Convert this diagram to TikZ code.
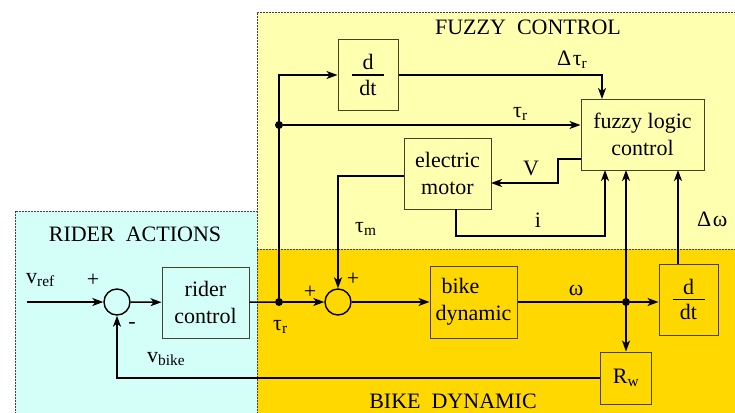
\documentclass[tikz,border=0pt]{standalone}
\usepackage{fontspec}
\setmainfont{Liberation Serif}
\usetikzlibrary{arrows.meta}
\definecolor{cyanbg}{RGB}{212,255,248}
\definecolor{ylbg}{RGB}{255,255,176}
\definecolor{goldbg}{RGB}{255,216,0}
\definecolor{boxline}{RGB}{70,66,40}
\newcommand\ddtfrac{\vbox{\hbox to 32pt{\hss d\hss}\kern4pt\hrule height 1.8pt\kern4pt\hbox to 32pt{\hss dt\hss}}}
\newcommand\sub[1]{\textsubscript{#1}}
\begin{document}
\begin{tikzpicture}[x=1pt,y=-1pt,
  font=\fontsize{22}{27}\selectfont,
  region/.style={draw=black!75,dash pattern=on 2pt off 1pt,line width=0.7pt},
  blk/.style={draw=boxline,line width=1pt,rectangle,inner sep=0pt,align=center},
  sumc/.style={draw=black,line width=1.4pt,circle,minimum size=26pt,inner sep=0pt},
  arr/.style={line width=1.5pt,-{Stealth[length=11pt,width=8pt,inset=3pt]}},
  ln/.style={line width=1.5pt},
  dotc/.style={circle,fill=black,inner sep=0pt,minimum size=8pt},
  lbl/.style={inner sep=0pt,anchor=base west}]
\useasboundingbox (0,0) rectangle (735,412);
% regions
\fill[ylbg] (257,12) rectangle (740,249);
\fill[goldbg] (257,249) rectangle (740,420);
\fill[cyanbg] (15,211) rectangle (257,420);
\draw[region] (257,420) -- (257,12) -- (740,12);
\draw[region] (257,249) -- (740,249);
\draw[region] (15,420) -- (15,211) -- (257,211);
\node[inner sep=0pt,anchor=base] (tfz) at (528,35) {FUZZY\ \ CONTROL};
\node[inner sep=0pt,anchor=base] (tra) at (135,241) {RIDER\ \ ACTIONS};
\node[inner sep=0pt,anchor=base] (tbd) at (453,408.5) {BIKE\ \ DYNAMIC};
% blocks
\node[blk,minimum width=60pt,minimum height=71pt] (ddt1) at (368,75) {\ddtfrac};
\node[blk,minimum width=123pt,minimum height=71pt] (flc) at (642.5,134.5) {fuzzy logic\\control};
\node[blk,minimum width=87pt,minimum height=71pt] (motor) at (447.5,173.5) {electric\\motor};
\node[blk,minimum width=87pt,minimum height=71pt] (rider) at (205.5,302.5) {rider\\control};
\node[blk,minimum width=87pt,minimum height=72pt,align=left] (bike) at (473.5,302) {\hspace*{6pt}bike\\dynamic};
\node[blk,minimum width=59pt,minimum height=71pt] (ddt2) at (688.5,299.5) {\ddtfrac};
\node[blk,minimum width=51pt,minimum height=52pt] (Rw) at (626,378) {R\sub{w}};
\node[sumc] (s1) at (117,302) {};
\node[sumc] (s2) at (338,302) {};
% points
\coordinate (vin) at (27,302);
\node[dotc] (d1) at (279,302) {};
\node[dotc] (d2) at (279,125) {};
\node[dotc] (d3) at (626,302) {};
\coordinate (c1) at (279,75);
\coordinate (ft) at (602,99);
\coordinate (vo) at (581,159);
\coordinate (v1) at (558,159);
\coordinate (v2) at (558,183);
\coordinate (v3) at (491,183);
\coordinate (m1) at (404,176);
\coordinate (i1) at (456,209);
\coordinate (ib) at (456,236);
\coordinate (ic) at (605,236);
\coordinate (i2) at (605,170);
\coordinate (fo) at (626,170);
\coordinate (w1) at (678,264);
\coordinate (w2) at (678,170);
% connectors
\draw[arr] (vin) -- (s1);
\draw[arr] (s1) -- (rider);
\draw[ln] (rider) -- (d1);
\draw[arr] (d1) -- (s2);
\draw[arr] (d1.center) -- (c1) -- (ddt1.west);
\draw[arr] (d2) -- (flc.west |- d2);
\draw[arr] (ddt1.east) -| (ft);
\draw[arr] (vo) -- (v1) -- (v2) -- (v3);
\draw[arr] (m1) -| (s2.north);
\draw[arr] (i1) -- (ib) -- (ic) -- (i2);
\draw[arr] (s2) -- (bike);
\draw[ln] (bike) -- (d3);
\draw[arr] (d3) -- (ddt2.west |- d3);
\draw[arr] (d3.center) -- (fo);
\draw[arr] (d3.center) -- (Rw.north);
\draw[arr] (w1) -- (w2);
\draw[arr] (Rw.west) -| (s1.south);
% labels
\node[lbl] (lvref) at (26,283) {v\sub{ref}};
\node[inner sep=0pt] (lp1) at (93,280) {+};
\node[inner sep=0pt] (lm1) at (132,325) {-};
\node[lbl] (lvbike) at (147,362) {v\sub{bike}};
\node[lbl] (ltr1) at (273,330) {τ\sub{r}};
\node[inner sep=0pt] (lp2) at (310,292) {+};
\node[inner sep=0pt] (lp3) at (353,279) {+};
\node[lbl] (ltm) at (355,232) {τ\sub{m}};
\node[lbl] (ltr2) at (513,117) {τ\sub{r}};
\node[lbl] (ldtr) at (557,65) {Δ\kern1.5pt τ\sub{r}};
\node[lbl] (lV) at (523,175) {V};
\node[inner sep=0pt,anchor=base] (li) at (538,227) {i};
\node[lbl] (ldw) at (697,226) {Δ\kern1.5pt ω};
\node[inner sep=0pt,anchor=base] (lw) at (576,295) {ω};
\end{tikzpicture}
\end{document}
